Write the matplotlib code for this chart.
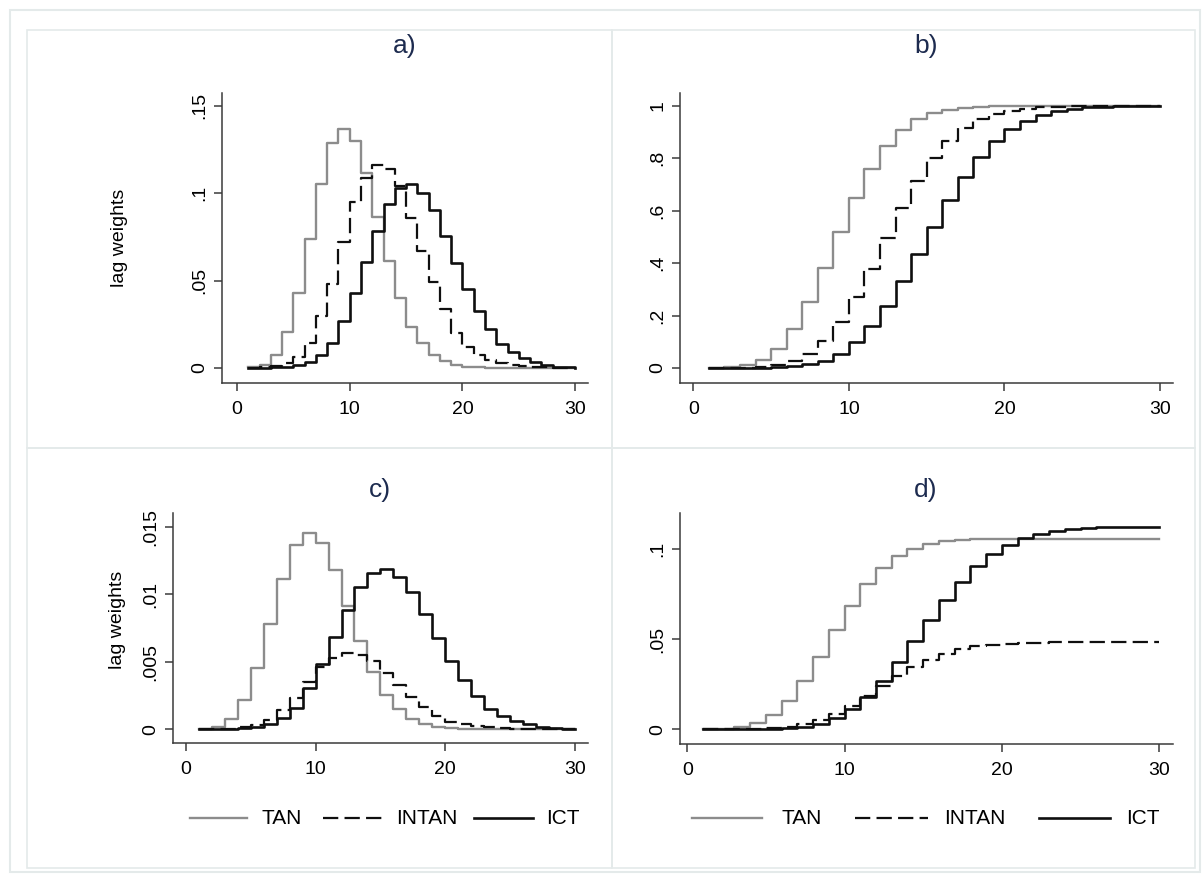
import matplotlib
matplotlib.use('Agg')
import matplotlib.pyplot as plt
from matplotlib.lines import Line2D

plt.rcParams['font.family'] = ['Liberation Sans', 'DejaVu Sans']
plt.rcParams['lines.scale_dashes'] = False

lags = list(range(1, 31))
series_names = ['TAN', 'INTAN', 'ICT']
panel_titles = ['a)', 'b)', 'c)', 'd)']

# a) lag weights
tan_w = [0.0005, 0.0019, 0.0074, 0.0208, 0.0431, 0.0737, 0.1052, 0.1286, 0.1368, 0.1302,
         0.1115, 0.0863, 0.0615, 0.0399, 0.0237, 0.0141, 0.0074, 0.0040, 0.0017, 0.0008,
         0.0003, 0.0002, 0.0001, 0.0, 0.0, 0.0, 0.0, 0.0, 0.0, 0.0]
intan_w = [0.0001, 0.0004, 0.0012, 0.0030, 0.0065, 0.0145, 0.0295, 0.0480, 0.0720, 0.0950,
           0.1090, 0.1160, 0.1140, 0.1040, 0.0860, 0.0670, 0.0490, 0.0340, 0.0200, 0.0120,
           0.0075, 0.0045, 0.0030, 0.0018, 0.0010, 0.0006, 0.0004, 0.0002, 0.0001, 0.0001]
ict_w = [0.0000, 0.0001, 0.0003, 0.0007, 0.0017, 0.0036, 0.0074, 0.0141, 0.0271, 0.0431,
         0.0605, 0.0784, 0.0937, 0.1029, 0.1052, 0.1004, 0.0905, 0.0758, 0.0603, 0.0450,
         0.0326, 0.0221, 0.0135, 0.0090, 0.0055, 0.0032, 0.0017, 0.0008, 0.0004, 0.0002]

# b) cumulative lag weights
tan_cum = [0.0005, 0.0024, 0.0098, 0.0306, 0.0737, 0.1474, 0.2526, 0.3812, 0.5180, 0.6482,
           0.7597, 0.8460, 0.9075, 0.9474, 0.9711, 0.9852, 0.9926, 0.9966, 0.9983, 0.9991,
           0.9994, 0.9996, 0.9997, 0.9998, 0.9999, 0.9999, 1.0, 1.0, 1.0, 1.0]
intan_cum = [0.0001, 0.0005, 0.0017, 0.0047, 0.0112, 0.0257, 0.0552, 0.1032, 0.1752, 0.2702,
             0.3792, 0.4952, 0.6092, 0.7132, 0.7992, 0.8662, 0.9152, 0.9492, 0.9692, 0.9812,
             0.9887, 0.9932, 0.9962, 0.9980, 0.9990, 0.9996, 0.9999, 1.0, 1.0, 1.0]
ict_cum = [0.0000, 0.0001, 0.0004, 0.0011, 0.0028, 0.0064, 0.0138, 0.0279, 0.0550, 0.0981,
           0.1586, 0.2370, 0.3307, 0.4336, 0.5388, 0.6392, 0.7297, 0.8055, 0.8658, 0.9108,
           0.9434, 0.9655, 0.9790, 0.9880, 0.9935, 0.9967, 0.9984, 0.9992, 0.9996, 0.9998]

# c) lag weights (scaled)
tan_c = [0.00005, 0.0002, 0.00078, 0.0022, 0.00457, 0.00781, 0.01115, 0.01363, 0.0145, 0.0138,
         0.01182, 0.00915, 0.00652, 0.00423, 0.00251, 0.00149, 0.00078, 0.00042, 0.00018, 0.00008,
         0.00003, 0.00002, 0.00001, 0.0, 0.0, 0.0, 0.0, 0.0, 0.0, 0.0]
intan_c = [0.000005, 0.00002, 0.00006, 0.00015, 0.00032, 0.0007, 0.00143, 0.00233, 0.00349, 0.00461,
           0.00529, 0.00563, 0.00553, 0.00504, 0.00417, 0.00325, 0.00238, 0.00165, 0.00097, 0.00058,
           0.00036, 0.00022, 0.00015, 0.00009, 0.00005, 0.00003, 0.00002, 0.00001, 0.000005, 0.000005]
ict_c = [0.0, 0.00001, 0.00003, 0.00008, 0.00019, 0.0004, 0.00083, 0.00159, 0.00305, 0.00485,
         0.00681, 0.00882, 0.01054, 0.01158, 0.01184, 0.0113, 0.01018, 0.00853, 0.00678, 0.00506,
         0.00367, 0.00249, 0.00152, 0.00101, 0.00062, 0.00036, 0.00019, 0.00009, 0.00005, 0.00002]

# d) cumulative (scaled)
tan_d = [0.00005, 0.00025, 0.00104, 0.00324, 0.00781, 0.01562, 0.02678, 0.04041, 0.05491, 0.06871,
         0.08053, 0.08968, 0.0962, 0.10042, 0.10294, 0.10443, 0.10522, 0.10564, 0.10582, 0.1059,
         0.10593, 0.10595, 0.10596, 0.10597, 0.10598, 0.10598, 0.106, 0.106, 0.106, 0.106]
intan_d = [0.000005, 0.00002, 0.00008, 0.00023, 0.00054, 0.00125, 0.00268, 0.005, 0.0085, 0.0131,
           0.01839, 0.02402, 0.02955, 0.03459, 0.03876, 0.04201, 0.04439, 0.04604, 0.04701, 0.04759,
           0.04795, 0.04817, 0.04832, 0.0484, 0.04845, 0.04848, 0.0485, 0.0485, 0.0485, 0.0485]
ict_d = [0.0, 0.00001, 0.00005, 0.00012, 0.00032, 0.00072, 0.00155, 0.00314, 0.00619, 0.01104,
         0.01784, 0.02666, 0.0372, 0.04878, 0.06062, 0.07191, 0.08209, 0.09062, 0.0974, 0.10247,
         0.10613, 0.10862, 0.11014, 0.11115, 0.11177, 0.11213, 0.11232, 0.11241, 0.11246, 0.11248]

x_ticks = [0, 10, 20, 30]
yticks_a = [0, 0.05, 0.1, 0.15]
yticklabels_a = ['0', '.05', '.1', '.15']
yticks_b = [0, 0.2, 0.4, 0.6, 0.8, 1.0]
yticklabels_b = ['0', '.2', '.4', '.6', '.8', '1']
yticks_c = [0, 0.005, 0.01, 0.015]
yticklabels_c = ['0', '.005', '.01', '.015']
yticks_d = [0, 0.05, 0.1]
yticklabels_d = ['0', '.05', '.1']

W, H = 1203, 881
fig = plt.figure(figsize=(W / 100, H / 100), dpi=100)
fig.patch.set_facecolor('white')

GRAY = '#8c8c8c'
BLACK = '#0f0f0f'
AXC = '#3a3a3a'
TITLEC = '#1d2b4f'
FRAME = '#e4eaea'

styles = {
    'TAN': dict(color=GRAY, lw=1.7, ls='-'),
    'INTAN': dict(color=BLACK, lw=1.6, dashes=(11, 4.5)),
    'ICT': dict(color=BLACK, lw=1.9, ls='-'),
}

# background axes in pixel coordinates (frames, titles, legends)
bg = fig.add_axes([0, 0, 1, 1], zorder=-5)
bg.set_xlim(0, W)
bg.set_ylim(H, 0)
bg.axis('off')
bg.add_patch(plt.Rectangle((10, 10), 1190, 862, fill=False, ec=FRAME, lw=1.5))
for (x0, y0, x1, y1) in [(27, 30, 612, 448), (612, 30, 1195, 448),
                         (27, 448, 612, 868), (612, 448, 1195, 868)]:
    bg.add_patch(plt.Rectangle((x0, y0), x1 - x0, y1 - y0, fill=False, ec=FRAME, lw=1.2))


def px_axes(left, right, top, bottom):
    return fig.add_axes([left / W, 1 - bottom / H, (right - left) / W, (bottom - top) / H])


def draw_panel(ax, data, xlim, ylim, yticks, yticklabels):
    for name, vals in zip(series_names, data):
        ax.step(lags, vals, where='post', **styles[name])
    ax.set_xlim(*xlim)
    ax.set_ylim(*ylim)
    ax.set_xticks(x_ticks)
    ax.set_xticklabels([str(t) for t in x_ticks])
    ax.set_yticks(yticks)
    ax.set_yticklabels(yticklabels, rotation=90, va='center')
    for s in ['top', 'right']:
        ax.spines[s].set_visible(False)
    for s in ['left', 'bottom']:
        ax.spines[s].set_color(AXC)
        ax.spines[s].set_linewidth(1.1)
    ax.tick_params(axis='both', direction='out', length=6, width=1.1, color=AXC,
                   labelsize=14, labelcolor='black')
    ax.tick_params(axis='y', pad=4)
    ax.tick_params(axis='x', pad=7)
    ax.patch.set_alpha(0)


ax_a = px_axes(221.7, 588, 93, 383)
draw_panel(ax_a, [tan_w, intan_w, ict_w], (-1.36, 31.14), (-0.0086, 0.1574),
           yticks_a, yticklabels_a)
ax_b = px_axes(680, 1173, 93, 383)
draw_panel(ax_b, [tan_cum, intan_cum, ict_cum], (-0.855, 30.83), (-0.0572, 1.0484),
           yticks_b, yticklabels_b)
ax_c = px_axes(173.3, 588, 513, 743)
draw_panel(ax_c, [tan_c, intan_c, ict_c], (-0.98, 31.02), (-0.00101, 0.01601),
           yticks_c, yticklabels_c)
ax_d = px_axes(680, 1173.3, 513, 744)
draw_panel(ax_d, [tan_d, intan_d, ict_d], (-0.464, 30.9), (-0.00817, 0.12017),
           yticks_d, yticklabels_d)

# titles
for (tx, ty), t in zip([(405, 46), (926, 46), (380, 490), (926, 490)], panel_titles):
    bg.text(tx, ty, t, ha='center', va='center', fontsize=19, color=TITLEC)

# y axis labels
bg.text(120, 238, 'lag weights', rotation=90, ha='center', va='center', fontsize=14)
bg.text(118, 620, 'lag weights', rotation=90, ha='center', va='center', fontsize=14)

# legends
leg_c = [(190, 247, 261), (323, 382, 396), (474, 533, 546)]
leg_d = [(692, 762, 781), (855, 928, 944), (1039, 1110, 1126)]
for layout in (leg_c, leg_d):
    for name, (l0, l1, tx) in zip(series_names, layout):
        st = dict(styles[name])
        bg.add_line(Line2D([l0, l1], [818, 818], **st))
        bg.text(tx, 818, name, ha='left', va='center', fontsize=15)

fig.savefig('out.png', dpi=100, facecolor='white')
